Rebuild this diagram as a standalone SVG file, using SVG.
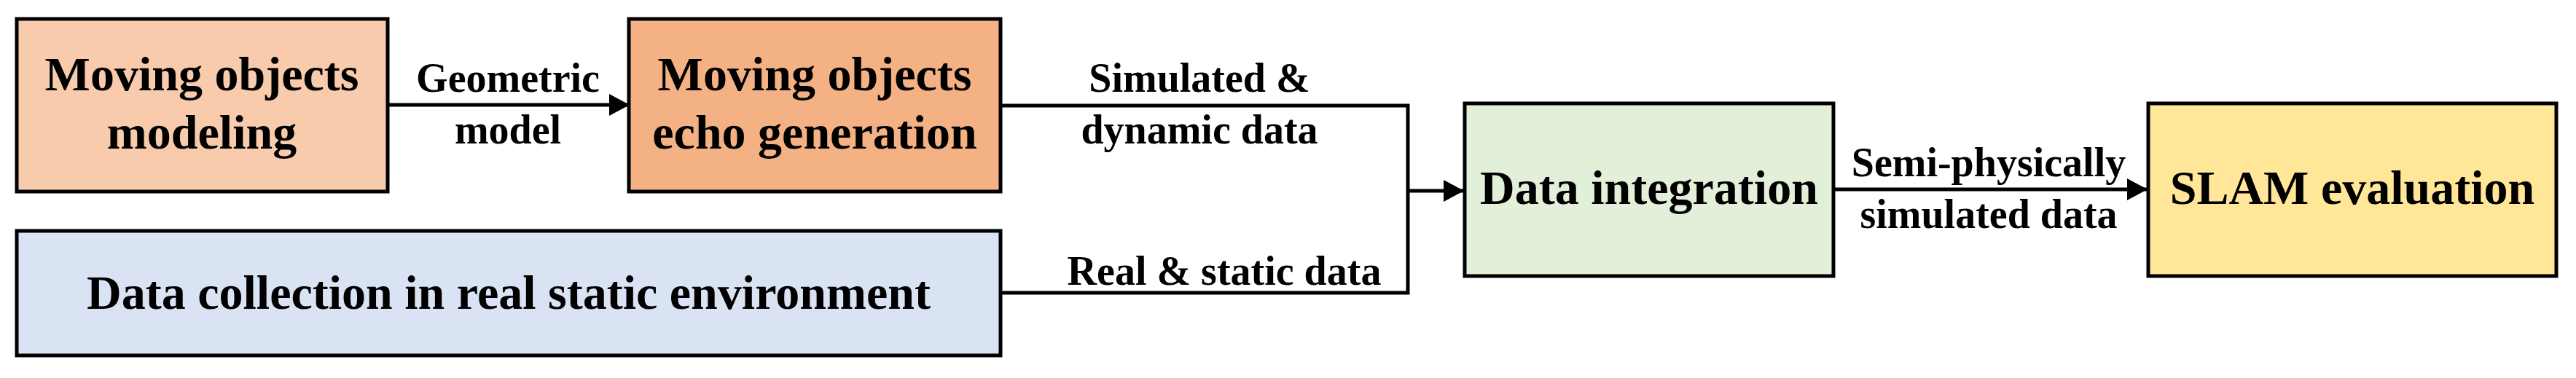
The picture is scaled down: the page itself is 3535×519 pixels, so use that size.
<svg xmlns="http://www.w3.org/2000/svg" width="3535" height="519" viewBox="0 0 3535 519">
<style>
.box{stroke:#000;stroke-width:5}
.t{font-family:"Liberation Serif","Times New Roman",serif;font-weight:bold;font-size:66px;text-anchor:middle;fill:#000}
.l{font-family:"Liberation Serif","Times New Roman",serif;font-weight:bold;font-size:56px;text-anchor:middle;fill:#000}
.c{fill:none;stroke:#000;stroke-width:5}
</style>
<defs><marker id="ah" markerUnits="userSpaceOnUse" markerWidth="28" markerHeight="30" refX="27" refY="15" orient="auto"><path d="M0,0 L28,15 L0,30 Z" fill="#000"/></marker></defs>
<rect width="3535" height="519" fill="#fff"/>
<g id="connectors">
<line class="c" x1="532" y1="144" x2="863" y2="144" marker-end="url(#ah)"/>
<polyline class="c" points="1373,145 1932,145 1932,402 1373,402"/>
<line class="c" x1="1932" y1="262" x2="2008" y2="262" marker-end="url(#ah)"/>
<line class="c" x1="2516" y1="260" x2="2946" y2="260" marker-end="url(#ah)"/>
<text class="l" x="697" y="126">Geometric</text>
<text class="l" x="697" y="197">model</text>
<text class="l" x="1646" y="126">Simulated &amp;</text>
<text class="l" x="1646" y="197">dynamic data</text>
<text class="l" x="1680" y="391">Real &amp; static data</text>
<text class="l" x="2729" y="242">Semi-physically</text>
<text class="l" x="2729" y="313">simulated data</text>
</g>
<g id="n1"><rect class="box" x="23" y="26" width="509" height="237" fill="#F8CBAD"/><text class="t" x="277" y="124">Moving objects</text><text class="t" x="277" y="204">modeling</text></g>
<g id="n2"><rect class="box" x="863" y="26" width="510" height="237" fill="#F4B183"/><text class="t" x="1118" y="124">Moving objects</text><text class="t" x="1118" y="204">echo generation</text></g>
<g id="n3"><rect class="box" x="23" y="317" width="1350" height="171" fill="#DAE3F3"/><text class="t" x="698" y="424">Data collection in real static environment</text></g>
<g id="n4"><rect class="box" x="2010" y="142" width="506" height="237" fill="#E2F0D9"/><text class="t" x="2263" y="280">Data integration</text></g>
<g id="n5"><rect class="box" x="2948" y="142" width="560" height="237" fill="#FFE699"/><text class="t" x="3228" y="280">SLAM evaluation</text></g>
</svg>
